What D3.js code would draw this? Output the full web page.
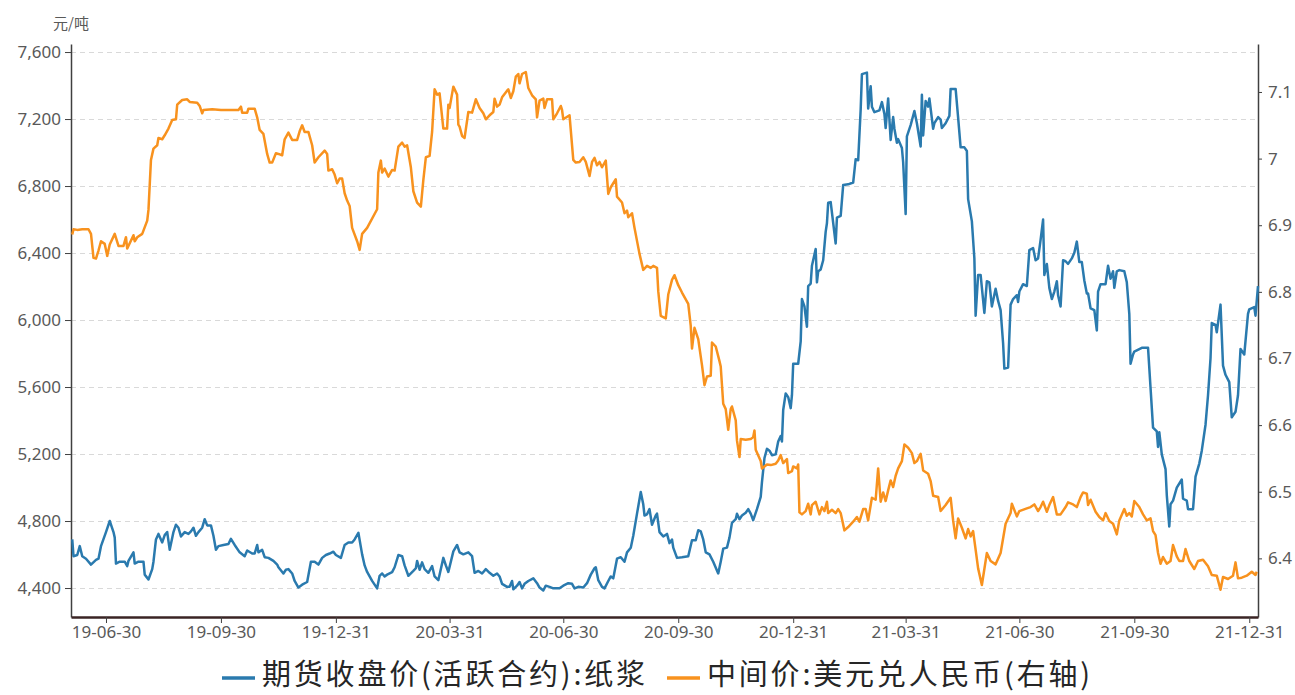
<!DOCTYPE html>
<html>
<head>
<meta charset="utf-8">
<script src="https://cdn.jsdelivr.net/npm/d3@7"></script>
<style>
  body { margin: 0; background: #fff; }
  .tick text { font-family: "Noto Sans", "Noto Sans CJK SC", sans-serif; fill: #595959; }
  .grid line { stroke: #d9d9d9; stroke-dasharray: 5,4; }
</style>
</head>
<body>
<div id="chart"></div>
<script>
// 期货收盘价(活跃合约):纸浆, 元/吨 (left axis)
var pulpPrices = [
  ["2019-06-03",4690],["2019-06-04",4590],["2019-06-07",4597],["2019-06-09",4650],["2019-06-11",4590],
  ["2019-06-14",4575],["2019-06-18",4540],["2019-06-22",4568],["2019-06-24",4575],["2019-06-26",4650],
  ["2019-06-30",4734],["2019-07-03",4800],["2019-07-06",4734],["2019-07-07",4701],["2019-07-08",4546],
  ["2019-07-11",4557],["2019-07-15",4557],["2019-07-17",4531],["2019-07-18",4562],["2019-07-22",4613],
  ["2019-07-23",4546],["2019-07-26",4557],["2019-07-30",4557],["2019-07-31",4480],["2019-08-03",4451],
  ["2019-08-06",4513],["2019-08-07",4557],["2019-08-09",4690],["2019-08-11",4723],["2019-08-14",4672],
  ["2019-08-16",4716],["2019-08-18",4734],["2019-08-20",4628],["2019-08-23",4734],["2019-08-25",4778],
  ["2019-08-27",4760],["2019-08-29",4708],["2019-09-01",4734],["2019-09-04",4723],["2019-09-06",4738],
  ["2019-09-08",4760],["2019-09-10",4712],["2019-09-12",4734],["2019-09-15",4760],["2019-09-17",4811],
  ["2019-09-19",4774],["2019-09-22",4774],["2019-09-24",4712],["2019-09-26",4628],["2019-09-28",4650],
  ["2019-10-02",4657],["2019-10-06",4663],["2019-10-08",4694],["2019-10-11",4657],["2019-10-15",4613],
  ["2019-10-19",4590],["2019-10-21",4624],["2019-10-25",4606],["2019-10-27",4606],["2019-10-29",4657],
  ["2019-10-30",4613],["2019-11-02",4628],["2019-11-04",4584],["2019-11-07",4580],["2019-11-11",4562],
  ["2019-11-14",4540],["2019-11-15",4524],["2019-11-19",4487],["2019-11-21",4509],["2019-11-23",4513],
  ["2019-11-26",4487],["2019-11-28",4442],["2019-12-01",4403],["2019-12-04",4420],["2019-12-08",4436],
  ["2019-12-11",4557],["2019-12-14",4557],["2019-12-17",4540],["2019-12-20",4580],["2019-12-23",4597],
  ["2019-12-26",4606],["2019-12-29",4617],["2019-12-31",4597],["2020-01-04",4580],["2020-01-07",4657],
  ["2020-01-10",4672],["2020-01-13",4672],["2020-01-15",4690],["2020-01-18",4730],["2020-01-21",4601],
  ["2020-01-23",4535],["2020-01-25",4496],["2020-01-29",4443],["2020-02-02",4398],["2020-02-04",4473],
  ["2020-02-06",4487],["2020-02-08",4469],["2020-02-10",4480],["2020-02-14",4495],["2020-02-16",4524],
  ["2020-02-19",4597],["2020-02-22",4590],["2020-02-24",4535],["2020-02-27",4473],["2020-03-02",4502],
  ["2020-03-04",4518],["2020-03-05",4562],["2020-03-07",4509],["2020-03-09",4553],["2020-03-11",4513],
  ["2020-03-14",4491],["2020-03-17",4531],["2020-03-19",4469],["2020-03-22",4447],["2020-03-26",4580],
  ["2020-03-28",4535],["2020-03-30",4496],["2020-04-03",4619],["2020-04-06",4657],["2020-04-08",4613],
  ["2020-04-11",4601],["2020-04-15",4613],["2020-04-18",4590],["2020-04-20",4491],["2020-04-23",4502],
  ["2020-04-26",4487],["2020-04-29",4513],["2020-05-02",4491],["2020-05-05",4473],["2020-05-08",4487],
  ["2020-05-10",4469],["2020-05-12",4425],["2020-05-16",4407],["2020-05-18",4407],["2020-05-20",4442],
  ["2020-05-21",4392],["2020-05-24",4414],["2020-05-26",4436],["2020-05-28",4398],["2020-05-30",4425],
  ["2020-06-02",4442],["2020-06-06",4458],["2020-06-09",4429],["2020-06-11",4403],["2020-06-14",4385],
  ["2020-06-16",4414],["2020-06-19",4407],["2020-06-22",4398],["2020-06-27",4398],["2020-06-30",4414],
  ["2020-07-04",4429],["2020-07-07",4425],["2020-07-09",4398],["2020-07-12",4407],["2020-07-16",4403],
  ["2020-07-19",4429],["2020-07-22",4480],["2020-07-25",4518],["2020-07-26",4524],["2020-07-28",4447],
  ["2020-07-31",4407],["2020-08-02",4398],["2020-08-05",4442],["2020-08-07",4469],["2020-08-09",4458],
  ["2020-08-12",4575],["2020-08-15",4584],["2020-08-18",4557],["2020-08-20",4613],["2020-08-23",4641],
  ["2020-08-25",4712],["2020-08-28",4844],["2020-08-31",4973],["2020-09-02",4900],["2020-09-03",4833],
  ["2020-09-05",4840],["2020-09-07",4871],["2020-09-09",4778],["2020-09-12",4833],["2020-09-13",4844],
  ["2020-09-15",4734],["2020-09-18",4708],["2020-09-21",4723],["2020-09-23",4668],["2020-09-25",4690],
  ["2020-09-26",4641],["2020-09-29",4580],["2020-10-03",4584],["2020-10-08",4590],["2020-10-11",4685],
  ["2020-10-14",4685],["2020-10-16",4745],["2020-10-18",4738],["2020-10-20",4690],["2020-10-22",4613],
  ["2020-10-25",4601],["2020-10-28",4557],["2020-11-01",4487],["2020-11-03",4557],["2020-11-05",4635],
  ["2020-11-08",4641],["2020-11-10",4701],["2020-11-12",4789],["2020-11-15",4811],["2020-11-16",4844],
  ["2020-11-18",4811],["2020-11-20",4833],["2020-11-23",4849],["2020-11-25",4871],["2020-11-27",4844],
  ["2020-11-29",4805],["2020-12-02",4871],["2020-12-05",4944],["2020-12-06",5032],["2020-12-08",5176],
  ["2020-12-10",5231],["2020-12-12",5220],["2020-12-14",5193],["2020-12-17",5198],["2020-12-19",5275],
  ["2020-12-21",5308],["2020-12-22",5275],["2020-12-23",5463],["2020-12-25",5562],["2020-12-27",5540],
  ["2020-12-29",5474],["2020-12-30",5551],["2020-12-31",5739],["2021-01-04",5739],["2021-01-06",5872],
  ["2021-01-07",6125],["2021-01-09",6081],["2021-01-11",5960],["2021-01-12",6203],["2021-01-14",6218],
  ["2021-01-15",6324],["2021-01-18",6424],["2021-01-19",6225],["2021-01-20",6291],["2021-01-22",6302],
  ["2021-01-24",6357],["2021-01-26",6528],["2021-01-27",6578],["2021-01-28",6700],["2021-01-30",6704],
  ["2021-02-03",6457],["2021-02-04",6611],["2021-02-07",6622],["2021-02-09",6806],["2021-02-13",6810],
  ["2021-02-17",6821],["2021-02-19",6960],["2021-02-21",6954],["2021-02-23",7256],["2021-02-24",7468],
  ["2021-02-28",7477],["2021-03-01",7263],["2021-03-03",7396],["2021-03-04",7274],["2021-03-06",7241],
  ["2021-03-10",7252],["2021-03-12",7301],["2021-03-14",7230],["2021-03-15",7146],["2021-03-17",7323],
  ["2021-03-19",7075],["2021-03-21",7212],["2021-03-22",7142],["2021-03-24",7058],["2021-03-25",7080],
  ["2021-03-28",7027],["2021-03-29",6943],["2021-03-31",6633],["2021-04-01",7097],["2021-04-04",7164],
  ["2021-04-07",7248],["2021-04-09",7175],["2021-04-12",7036],["2021-04-13",7345],["2021-04-14",7102],
  ["2021-04-16",7307],["2021-04-18",7274],["2021-04-19",7323],["2021-04-22",7142],["2021-04-23",7175],
  ["2021-04-26",7212],["2021-04-28",7197],["2021-04-29",7146],["2021-05-02",7175],["2021-05-05",7219],
  ["2021-05-06",7380],["2021-05-10",7380],["2021-05-12",7208],["2021-05-14",7031],["2021-05-17",7031],
  ["2021-05-19",7009],["2021-05-20",6722],["2021-05-23",6589],["2021-05-25",6368],["2021-05-26",6026],
  ["2021-05-28",6269],["2021-05-30",6269],["2021-06-02",6042],["2021-06-04",6232],["2021-06-06",6225],
  ["2021-06-08",6081],["2021-06-11",6187],["2021-06-13",6114],["2021-06-15",6059],["2021-06-17",5860],
  ["2021-06-18",5710],["2021-06-21",5717],["2021-06-23",6092],["2021-06-25",6125],["2021-06-28",6148],
  ["2021-06-29",6108],["2021-06-30",6170],["2021-07-03",6214],["2021-07-06",6203],["2021-07-08",6417],
  ["2021-07-11",6430],["2021-07-13",6357],["2021-07-15",6368],["2021-07-17",6479],["2021-07-19",6600],
  ["2021-07-20",6269],["2021-07-22",6335],["2021-07-24",6192],["2021-07-26",6125],["2021-07-28",6170],
  ["2021-07-30",6232],["2021-07-31",6148],["2021-08-02",6081],["2021-08-04",6357],["2021-08-06",6351],
  ["2021-08-08",6335],["2021-08-11",6368],["2021-08-13",6402],["2021-08-15",6468],["2021-08-17",6346],
  ["2021-08-19",6346],["2021-08-21",6236],["2021-08-23",6159],["2021-08-24",6159],["2021-08-26",6070],
  ["2021-08-29",6059],["2021-08-31",5938],["2021-09-01",6170],["2021-09-03",6214],["2021-09-07",6214],
  ["2021-09-09",6324],["2021-09-11",6247],["2021-09-13",6291],["2021-09-14",6192],["2021-09-16",6291],
  ["2021-09-18",6298],["2021-09-22",6291],["2021-09-24",6225],["2021-09-26",6037],["2021-09-27",5739],
  ["2021-09-29",5794],["2021-09-30",5812],["2021-10-06",5834],["2021-10-11",5834],["2021-10-13",5595],
  ["2021-10-15",5357],["2021-10-18",5335],["2021-10-19",5242],["2021-10-20",5330],["2021-10-22",5198],
  ["2021-10-25",5110],["2021-10-26",4955],["2021-10-28",4767],["2021-10-29",4900],["2021-10-31",4922],
  ["2021-11-03",4999],["2021-11-07",5048],["2021-11-08",4933],["2021-11-11",4922],["2021-11-12",4871],
  ["2021-11-16",4871],["2021-11-18",5065],["2021-11-21",5143],["2021-11-23",5220],["2021-11-26",5375],
  ["2021-11-28",5551],["2021-11-30",5772],["2021-12-01",5982],["2021-12-04",5971],["2021-12-05",5927],
  ["2021-12-08",6092],["2021-12-10",5728],["2021-12-12",5673],["2021-12-15",5629],["2021-12-17",5419],
  ["2021-12-20",5452],["2021-12-22",5551],["2021-12-24",5827],["2021-12-27",5794],["2021-12-30",6037],
  ["2021-12-31",6064],["2022-01-04",6077],["2022-01-05",6026],["2022-01-07",6203]
];

// 中间价:美元兑人民币 (right axis)
var usdCny = [
  ["2019-06-03",6.886],["2019-06-04",6.894],["2019-06-07",6.893],["2019-06-11",6.894],["2019-06-16",6.894],
  ["2019-06-18",6.887],["2019-06-20",6.851],["2019-06-22",6.850],["2019-06-24",6.862],["2019-06-26",6.876],
  ["2019-06-29",6.872],["2019-07-01",6.854],["2019-07-03",6.871],["2019-07-07",6.887],["2019-07-10",6.869],
  ["2019-07-14",6.869],["2019-07-16",6.882],["2019-07-17",6.865],["2019-07-19",6.873],["2019-07-22",6.885],
  ["2019-07-23",6.876],["2019-07-25",6.882],["2019-07-29",6.887],["2019-08-02",6.907],["2019-08-03",6.923],
  ["2019-08-05",6.998],["2019-08-07",7.015],["2019-08-10",7.020],["2019-08-11",7.031],["2019-08-14",7.029],
  ["2019-08-16",7.035],["2019-08-19",7.045],["2019-08-22",7.058],["2019-08-25",7.059],["2019-08-26",7.081],
  ["2019-08-30",7.088],["2019-09-03",7.089],["2019-09-05",7.085],["2019-09-11",7.084],["2019-09-13",7.079],
  ["2019-09-15",7.068],["2019-09-16",7.073],["2019-09-23",7.074],["2019-09-30",7.073],["2019-10-09",7.073],
  ["2019-10-14",7.073],["2019-10-16",7.078],["2019-10-17",7.069],["2019-10-21",7.069],["2019-10-22",7.075],
  ["2019-10-27",7.075],["2019-10-29",7.062],["2019-10-31",7.043],["2019-11-03",7.037],["2019-11-06",7.007],
  ["2019-11-08",6.994],["2019-11-10",6.994],["2019-11-13",7.008],["2019-11-15",7.007],["2019-11-18",7.005],
  ["2019-11-20",7.029],["2019-11-23",7.039],["2019-11-26",7.028],["2019-11-30",7.028],["2019-12-02",7.041],
  ["2019-12-04",7.050],["2019-12-06",7.040],["2019-12-09",7.040],["2019-12-12",7.020],["2019-12-14",6.994],
  ["2019-12-17",7.002],["2019-12-22",7.012],["2019-12-24",7.007],["2019-12-25",6.982],["2019-12-28",6.984],
  ["2019-12-30",6.976],["2020-01-01",6.963],["2020-01-03",6.970],["2020-01-05",6.970],["2020-01-07",6.948],
  ["2020-01-09",6.937],["2020-01-11",6.929],["2020-01-13",6.896],["2020-01-17",6.876],["2020-01-19",6.863],
  ["2020-01-21",6.887],["2020-01-25",6.896],["2020-02-02",6.924],["2020-02-03",6.979],["2020-02-05",6.997],
  ["2020-02-06",6.979],["2020-02-08",6.985],["2020-02-11",6.973],["2020-02-14",6.983],["2020-02-16",6.982],
  ["2020-02-19",7.018],["2020-02-22",7.024],["2020-02-24",7.018],["2020-02-26",7.020],["2020-02-29",6.987],
  ["2020-03-02",6.951],["2020-03-05",6.934],["2020-03-08",6.928],["2020-03-10",6.968],["2020-03-12",7.002],
  ["2020-03-15",7.004],["2020-03-17",7.040],["2020-03-19",7.104],["2020-03-21",7.096],["2020-03-23",7.098],
  ["2020-03-26",7.045],["2020-03-29",7.045],["2020-03-30",7.081],["2020-03-31",7.076],["2020-04-03",7.108],
  ["2020-04-06",7.096],["2020-04-07",7.051],["2020-04-08",7.048],["2020-04-10",7.034],["2020-04-12",7.031],
  ["2020-04-15",7.070],["2020-04-18",7.069],["2020-04-21",7.089],["2020-04-24",7.076],["2020-04-27",7.068],
  ["2020-04-29",7.059],["2020-05-02",7.065],["2020-05-05",7.070],["2020-05-06",7.090],["2020-05-08",7.078],
  ["2020-05-10",7.081],["2020-05-12",7.092],["2020-05-16",7.102],["2020-05-17",7.104],["2020-05-19",7.091],
  ["2020-05-21",7.101],["2020-05-23",7.123],["2020-05-25",7.127],["2020-05-26",7.113],["2020-05-28",7.127],
  ["2020-05-31",7.130],["2020-06-02",7.106],["2020-06-05",7.095],["2020-06-08",7.089],["2020-06-09",7.062],
  ["2020-06-11",7.087],["2020-06-14",7.090],["2020-06-15",7.076],["2020-06-17",7.089],["2020-06-21",7.089],
  ["2020-06-22",7.059],["2020-06-25",7.068],["2020-06-28",7.079],["2020-06-29",7.073],["2020-06-30",7.059],
  ["2020-07-05",7.065],["2020-07-08",6.998],["2020-07-10",6.994],["2020-07-13",6.995],["2020-07-16",7.002],
  ["2020-07-18",6.995],["2020-07-21",6.974],["2020-07-23",6.995],["2020-07-25",7.001],["2020-07-27",6.990],
  ["2020-07-29",6.995],["2020-07-31",6.987],["2020-08-03",6.997],["2020-08-05",6.947],["2020-08-07",6.957],
  ["2020-08-11",6.969],["2020-08-12",6.943],["2020-08-16",6.934],["2020-08-18",6.918],["2020-08-20",6.922],
  ["2020-08-21",6.912],["2020-08-24",6.918],["2020-08-26",6.896],["2020-08-30",6.857],["2020-09-02",6.833],
  ["2020-09-05",6.839],["2020-09-08",6.836],["2020-09-10",6.839],["2020-09-13",6.836],["2020-09-14",6.801],
  ["2020-09-16",6.764],["2020-09-20",6.760],["2020-09-22",6.796],["2020-09-25",6.818],["2020-09-27",6.825],
  ["2020-09-30",6.810],["2020-10-03",6.799],["2020-10-08",6.782],["2020-10-10",6.749],["2020-10-11",6.715],
  ["2020-10-13",6.746],["2020-10-16",6.729],["2020-10-19",6.690],["2020-10-21",6.660],["2020-10-23",6.673],
  ["2020-10-26",6.674],["2020-10-27",6.724],["2020-10-30",6.718],["2020-11-02",6.696],["2020-11-03",6.688],
  ["2020-11-05",6.632],["2020-11-07",6.624],["2020-11-09",6.593],["2020-11-11",6.624],["2020-11-12",6.628],
  ["2020-11-15",6.607],["2020-11-16",6.577],["2020-11-18",6.552],["2020-11-19",6.579],["2020-11-23",6.578],
  ["2020-11-27",6.579],["2020-11-29",6.582],["2020-11-30",6.592],["2020-12-01",6.563],["2020-12-05",6.546],
  ["2020-12-06",6.535],["2020-12-10",6.541],["2020-12-13",6.540],["2020-12-17",6.542],["2020-12-19",6.547],
  ["2020-12-21",6.555],["2020-12-23",6.543],["2020-12-26",6.549],["2020-12-27",6.528],["2020-12-30",6.531],
  ["2020-12-31",6.538],["2021-01-03",6.535],["2021-01-04",6.541],["2021-01-05",6.469],["2021-01-07",6.466],
  ["2021-01-10",6.471],["2021-01-12",6.482],["2021-01-14",6.466],["2021-01-15",6.480],["2021-01-18",6.485],
  ["2021-01-21",6.466],["2021-01-23",6.477],["2021-01-25",6.471],["2021-01-27",6.485],["2021-01-28",6.468],
  ["2021-01-31",6.473],["2021-02-03",6.468],["2021-02-05",6.474],["2021-02-07",6.468],["2021-02-10",6.442],
  ["2021-02-13",6.447],["2021-02-17",6.455],["2021-02-20",6.462],["2021-02-22",6.455],["2021-02-25",6.474],
  ["2021-02-27",6.474],["2021-03-01",6.457],["2021-03-04",6.491],["2021-03-07",6.488],["2021-03-09",6.535],
  ["2021-03-11",6.485],["2021-03-13",6.499],["2021-03-15",6.486],["2021-03-17",6.502],["2021-03-19",6.517],
  ["2021-03-21",6.507],["2021-03-23",6.524],["2021-03-25",6.535],["2021-03-28",6.546],["2021-03-30",6.571],
  ["2021-04-02",6.566],["2021-04-05",6.558],["2021-04-07",6.543],["2021-04-09",6.546],["2021-04-12",6.557],
  ["2021-04-14",6.532],["2021-04-18",6.527],["2021-04-20",6.516],["2021-04-22",6.494],["2021-04-26",6.492],
  ["2021-04-28",6.471],["2021-05-02",6.480],["2021-05-06",6.491],["2021-05-08",6.457],["2021-05-10",6.430],
  ["2021-05-12",6.460],["2021-05-15",6.446],["2021-05-18",6.430],["2021-05-20",6.444],["2021-05-22",6.433],
  ["2021-05-24",6.441],["2021-05-26",6.413],["2021-05-28",6.385],["2021-05-31",6.360],["2021-06-04",6.408],
  ["2021-06-07",6.396],["2021-06-11",6.391],["2021-06-15",6.408],["2021-06-19",6.452],["2021-06-23",6.468],
  ["2021-06-24",6.482],["2021-06-28",6.463],["2021-06-30",6.471],["2021-07-06",6.475],["2021-07-09",6.477],
  ["2021-07-12",6.481],["2021-07-15",6.471],["2021-07-17",6.477],["2021-07-19",6.485],["2021-07-22",6.470],
  ["2021-07-24",6.480],["2021-07-27",6.492],["2021-07-30",6.466],["2021-08-02",6.466],["2021-08-06",6.477],
  ["2021-08-08",6.484],["2021-08-12",6.481],["2021-08-15",6.477],["2021-08-18",6.492],["2021-08-20",6.499],
  ["2021-08-23",6.497],["2021-08-24",6.480],["2021-08-26",6.488],["2021-08-30",6.470],["2021-09-02",6.462],
  ["2021-09-05",6.457],["2021-09-07",6.468],["2021-09-10",6.456],["2021-09-13",6.452],["2021-09-16",6.436],
  ["2021-09-18",6.457],["2021-09-22",6.474],["2021-09-24",6.464],["2021-09-26",6.468],["2021-09-28",6.463],
  ["2021-09-30",6.486],["2021-10-04",6.477],["2021-10-07",6.466],["2021-10-10",6.457],["2021-10-13",6.460],
  ["2021-10-15",6.441],["2021-10-17",6.435],["2021-10-19",6.408],["2021-10-21",6.392],["2021-10-23",6.402],
  ["2021-10-26",6.392],["2021-10-29",6.396],["2021-10-31",6.420],["2021-11-03",6.403],["2021-11-05",6.396],
  ["2021-11-08",6.396],["2021-11-10",6.414],["2021-11-13",6.396],["2021-11-17",6.384],["2021-11-20",6.396],
  ["2021-11-24",6.398],["2021-11-28",6.388],["2021-12-01",6.375],["2021-12-05",6.374],["2021-12-08",6.353],
  ["2021-12-10",6.372],["2021-12-14",6.369],["2021-12-18",6.374],["2021-12-20",6.394],["2021-12-22",6.370],
  ["2021-12-25",6.371],["2021-12-29",6.374],["2022-01-02",6.380],["2022-01-05",6.375],["2022-01-06",6.380]
];

var xTickDates = ["2019-06-30","2019-09-30","2019-12-31","2020-03-31","2020-06-30","2020-09-30",
                  "2020-12-31","2021-03-31","2021-06-30","2021-09-30","2021-12-31"];
var leftTicks = [4400, 4800, 5200, 5600, 6000, 6400, 6800, 7200, 7600];
var rightTicks = [6.4, 6.5, 6.6, 6.7, 6.8, 6.9, 7, 7.1];
var seriesNames = ["期货收盘价(活跃合约):纸浆", "中间价:美元兑人民币(右轴)"];
var seriesColors = ["#2a7aae", "#f8921e"];

var svgWidth = 1295;
var svgHeight = 695;

var margin = {
  top: 44,
  right: 37,
  bottom: 78,
  left: 71
};

var width = svgWidth - margin.left - margin.right;
var height = svgHeight - margin.top - margin.bottom;

var parseDate = d3.timeParse("%Y-%m-%d");

var svg = d3.select("#chart")
  .append("svg")
  .attr("width", svgWidth)
  .attr("height", svgHeight);

var chartGroup = svg.append("g")
  .attr("transform", `translate(${margin.left}, ${margin.top})`);

// scales
var xTimeScale = d3.scaleTime()
  .domain([parseDate("2019-06-02"), parseDate("2022-01-07")])
  .range([0, width]);

var yLeftScale = d3.scaleLinear()
  .domain([4227, 7648])
  .range([height, 0]);

var yRightScale = d3.scaleLinear()
  .domain([6.312, 7.172])
  .range([height, 0]);

// dashed grid on left ticks
chartGroup.append("g")
  .attr("class", "grid")
  .selectAll("line")
  .data(leftTicks)
  .enter()
  .append("line")
  .attr("x1", 0)
  .attr("x2", width)
  .attr("y1", d => Math.round(yLeftScale(d)) + 0.5)
  .attr("y2", d => Math.round(yLeftScale(d)) + 0.5);

// axes
var leftAxis = d3.axisLeft(yLeftScale)
  .tickValues(leftTicks)
  .tickFormat(d3.format(","))
  .tickSizeInner(6)
  .tickSizeOuter(0)
  .tickPadding(4);

var rightAxis = d3.axisRight(yRightScale)
  .tickValues(rightTicks)
  .tickFormat(d => d)
  .tickSizeInner(4)
  .tickSizeOuter(0)
  .tickPadding(6);

var bottomAxis = d3.axisBottom(xTimeScale)
  .tickValues(xTickDates.map(parseDate))
  .tickFormat(d3.timeFormat("%y-%m-%d"))
  .tickSizeInner(6)
  .tickSizeOuter(0)
  .tickPadding(3);

var yAxisL = chartGroup.append("g").call(leftAxis);
var yAxisR = chartGroup.append("g")
  .attr("transform", `translate(${width}, 0)`)
  .call(rightAxis);
var xAxis = chartGroup.append("g")
  .attr("transform", `translate(0, ${height})`)
  .call(bottomAxis);

[yAxisL, yAxisR].forEach(function(ax) {
  ax.select(".domain").attr("stroke", "#404040").attr("stroke-width", 1.5);
  ax.selectAll(".tick line").attr("stroke", "#404040");
  ax.selectAll(".tick text").style("font-size", "17px");
});
xAxis.select(".domain").attr("stroke", "#3a2424").attr("stroke-width", 2.5);
xAxis.selectAll(".tick line").attr("stroke", "#404040");
xAxis.selectAll(".tick text").style("font-size", "17px");

// unit label
svg.append("text")
  .attr("x", margin.left)
  .attr("y", 29)
  .attr("text-anchor", "middle")
  .style("font-family", "'Noto Sans CJK SC', sans-serif")
  .style("font-size", "15px")
  .style("fill", "#595959")
  .text("元/吨");

// lines
var pulpLine = d3.line()
  .x(d => xTimeScale(parseDate(d[0])))
  .y(d => yLeftScale(d[1]));

var cnyLine = d3.line()
  .x(d => xTimeScale(parseDate(d[0])))
  .y(d => yRightScale(d[1]));

chartGroup.append("path")
  .datum(pulpPrices)
  .attr("fill", "none")
  .attr("stroke", seriesColors[0])
  .attr("stroke-width", 2.5)
  .attr("stroke-linejoin", "round")
  .attr("d", pulpLine);

chartGroup.append("path")
  .datum(usdCny)
  .attr("fill", "none")
  .attr("stroke", seriesColors[1])
  .attr("stroke-width", 2.5)
  .attr("stroke-linejoin", "round")
  .attr("d", cnyLine);

// legend
var legendX = [222, 667];
var legendGroup = svg.append("g");
seriesNames.forEach(function(name, i) {
  legendGroup.append("line")
    .attr("x1", legendX[i])
    .attr("x2", legendX[i] + 33)
    .attr("y1", 678)
    .attr("y2", 678)
    .attr("stroke", seriesColors[i])
    .attr("stroke-width", 3.5);
  legendGroup.append("text")
    .attr("x", legendX[i] + 40)
    .attr("y", 685)
    .style("font-family", "'Noto Sans CJK SC', sans-serif")
    .style("font-size", "29px")
    .style("letter-spacing", "2.8px")
    .style("fill", "#262626")
    .text(name);
});
</script>
</body>
</html>
